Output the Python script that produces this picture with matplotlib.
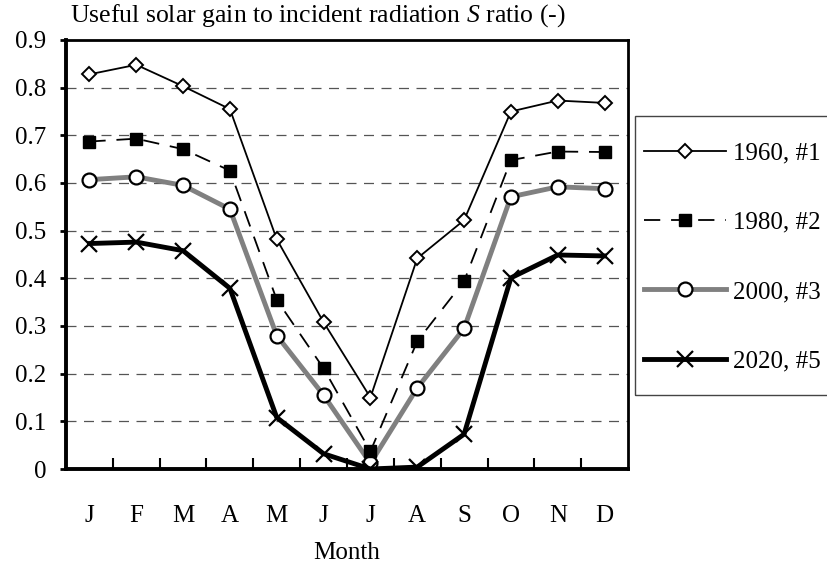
import numpy as np
import matplotlib.pyplot as plt
from matplotlib.patches import Rectangle

plt.rcParams['font.family'] = ['Liberation Serif', 'DejaVu Serif']
plt.rcParams['mathtext.fontset'] = 'custom'
plt.rcParams['mathtext.it'] = 'Liberation Serif:italic'
plt.rcParams['mathtext.rm'] = 'Liberation Serif'

months = ['J', 'F', 'M', 'A', 'M', 'J', 'J', 'A', 'S', 'O', 'N', 'D']
s_1960 = [0.828, 0.848, 0.803, 0.755, 0.482, 0.308, 0.150, 0.442, 0.522, 0.750, 0.773, 0.768]
s_1980 = [0.687, 0.693, 0.671, 0.626, 0.355, 0.211, 0.037, 0.268, 0.394, 0.648, 0.666, 0.665]
s_2000 = [0.607, 0.613, 0.595, 0.545, 0.280, 0.155, 0.012, 0.170, 0.295, 0.571, 0.592, 0.588]
s_2020 = [0.473, 0.476, 0.458, 0.379, 0.108, 0.032, 0.000, 0.004, 0.073, 0.401, 0.449, 0.447]
labels = ['1960, #1', '1980, #2', '2000, #3', '2020, #5']

W, H = 828, 566
fig = plt.figure(figsize=(W / 100, H / 100), dpi=100)
ax = fig.add_axes([66 / W, (H - 469) / H, (628 - 66) / W, (469 - 40) / H])

x = np.arange(len(months))
ax.plot(x, s_1960, color='black', lw=1.3, marker='D', ms=7.5, mfc='white',
        mec='black', mew=1.4, label=labels[0], zorder=5)
ax.plot(x, s_1980, color='black', lw=1.3, ls=(0, (9, 6)), marker='s', ms=8,
        mfc='black', mec='black', label=labels[1], zorder=4)
ax.plot(x, s_2000, color='#808080', lw=3.5, marker='o', ms=10, mfc='white',
        mec='black', mew=1.6, label=labels[2], zorder=3)
ax.plot(x, s_2020, color='black', lw=3.5, marker='x', ms=11, mec='black',
        mew=1.6, label=labels[3], zorder=6)

ax.set_xlim(-0.5, 11.5)
ax.set_ylim(0, 0.9)
ax.set_yticks(np.arange(0, 0.91, 0.1))
ax.set_yticklabels(['0'] + ['%.1f' % v for v in np.arange(0.1, 0.91, 0.1)])
ax.set_xticks(x)
ax.set_xticklabels(months)
ax.set_xticks(np.arange(0.5, 11, 1), minor=True)
ax.tick_params(axis='x', which='major', length=0, pad=26, labelsize=18)
ax.tick_params(axis='x', which='minor', direction='in', length=8, width=1.5)
ax.tick_params(axis='y', direction='out', length=4, width=2, pad=10, labelsize=18)

for v in np.arange(0.1, 0.85, 0.1):
    ax.axhline(v, color='#555555', lw=0.9, ls=(0, (8, 6)), zorder=1)

for side in ['left', 'bottom']:
    ax.spines[side].set_linewidth(2.8)
for side in ['top', 'right']:
    ax.spines[side].set_linewidth(2.0)

ax.set_xlabel('Month', fontsize=18, labelpad=11)
fig.text(70 / W, 1 - 16 / H, 'Useful solar gain to incident radiation $S$ ratio (-)',
         fontsize=18.5, va='center', ha='left')

fig.patches.append(Rectangle((635 / W, 1 - 395 / H), 220 / W, 279 / H,
                             transform=fig.transFigure, fill=False,
                             edgecolor='#444444', lw=1.0))
fig.legend(loc='upper left', bbox_to_anchor=(644 / W, 1 - 142 / H), frameon=False,
           fontsize=18, handlelength=3.3, handletextpad=0.25, labelspacing=1.87,
           borderaxespad=0, borderpad=0)

fig.savefig('out.png', dpi=100)
